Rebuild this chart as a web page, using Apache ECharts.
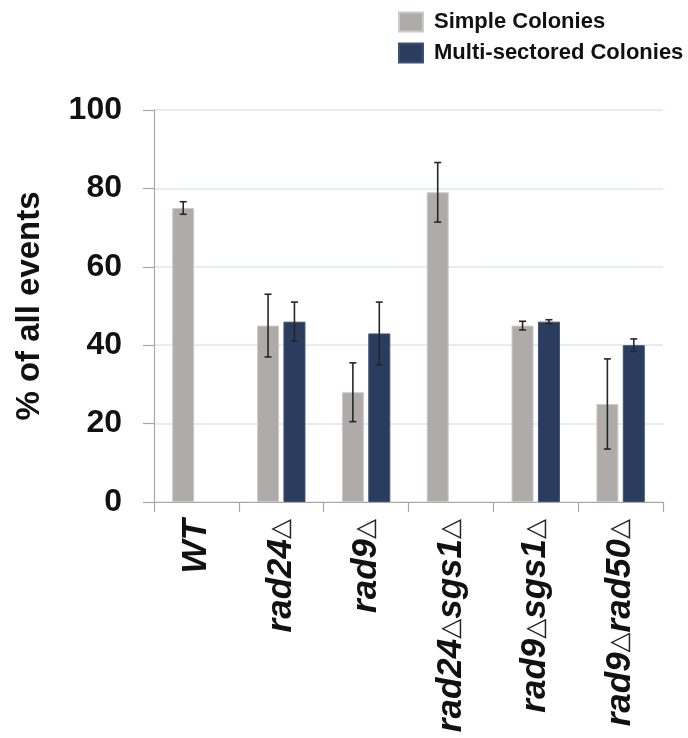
<!DOCTYPE html>
<html>
<head>
<meta charset="utf-8">
<title>% of all events by strain</title>
<script src="https://cdn.jsdelivr.net/npm/echarts@6/dist/echarts.min.js"></script>
<style>
  html, body { margin: 0; padding: 0; background: #ffffff; }
  #chart { width: 688px; height: 738px; }
</style>
</head>
<body>
<div id="chart"></div>
<script>
// Strains on the x axis ("△" marks a deletion)
const categories = ['WT', 'rad24△', 'rad9△', 'rad24△sgs1△', 'rad9△sgs1△', 'rad9△rad50△'];

// Mean % of all events
const simpleColonies = [75, 45, 28, 79, 45, 25];
const multiSectored = [null, 46, 43, null, 46, 40];

// Error bar half-lengths
const simpleErr = [1.6, 8, 7.5, 7.6, 1.1, 11.5];
const multiErr = [null, 5, 8, null, 0.5, 1.6];

// Y axis ticks
const yTicks = { min: 0, max: 100, step: 20 };

const seriesNames = ['Simple Colonies', 'Multi-sectored Colonies'];

const BAR_WIDTH = 22;
const BAR_GAP = 0.2;
const HALF_SHIFT = (BAR_WIDTH + BAR_WIDTH * BAR_GAP) / 2;

function errorData(values, errs) {
  const out = [];
  values.forEach(function (v, i) {
    if (v != null && errs[i] != null) out.push([i, v, errs[i]]);
  });
  return out;
}

function errorRenderer(shift) {
  return function (params, api) {
    const i = api.value(0), v = api.value(1), e = api.value(2);
    const hi = api.coord([i, v + e]);
    const lo = api.coord([i, v - e]);
    const x = hi[0] + shift;
    const cap = 3.5;
    const style = { stroke: '#262626', lineWidth: 1.6 };
    return {
      type: 'group',
      children: [
        { type: 'line', shape: { x1: x, y1: hi[1], x2: x, y2: lo[1] }, style: style },
        { type: 'line', shape: { x1: x - cap, y1: hi[1], x2: x + cap, y2: hi[1] }, style: style },
        { type: 'line', shape: { x1: x - cap, y1: lo[1], x2: x + cap, y2: lo[1] }, style: style }
      ]
    };
  };
}

const chart = echarts.init(document.getElementById('chart'), null, { renderer: 'canvas' });

const FONT = '"Liberation Sans", Arial, Helvetica, sans-serif';

chart.setOption({
  animation: false,
  backgroundColor: '#ffffff',
  textStyle: { fontFamily: FONT },
  legend: {
    data: seriesNames,
    orient: 'vertical',
    left: 398,
    top: 11,
    padding: 0,
    icon: 'rect',
    itemWidth: 24,
    itemHeight: 19,
    itemGap: 9,
    textStyle: {
      fontFamily: FONT,
      fontSize: 22,
      fontWeight: 'bold',
      color: '#111111',
      lineHeight: 19,
      padding: [0, 0, 0, 6]
    }
  },
  grid: { left: 154, right: 25, top: 110, bottom: 236, containLabel: false },
  xAxis: {
    type: 'category',
    data: categories,
    axisLine: { show: true, lineStyle: { color: '#a8a8a8', width: 1.2 } },
    axisTick: { show: true, length: 10, lineStyle: { color: '#a8a8a8', width: 1.2 } },
    axisLabel: {
      interval: 0,
      rotate: 90,
      margin: 17,
      formatter: function (value) {
        return value.split('△').map(function (part) {
          return part ? '{b|' + part + '}' : '';
        }).join('{d|△}');
      },
      rich: {
        b: { fontFamily: FONT, fontSize: 35, fontWeight: 'bold', fontStyle: 'italic', color: '#111111', lineHeight: 38 },
        d: { fontFamily: '"DejaVu Sans", sans-serif', fontSize: 26, fontWeight: 'normal', color: '#222222', lineHeight: 38 }
      }
    },
    splitLine: { show: false }
  },
  yAxis: {
    type: 'value',
    min: yTicks.min,
    max: yTicks.max,
    interval: yTicks.step,
    name: '% of all events',
    nameLocation: 'middle',
    nameGap: 108,
    nameTextStyle: { fontFamily: FONT, fontSize: 33, fontWeight: 'bold', color: '#111111' },
    axisLine: { show: true, lineStyle: { color: '#a8a8a8', width: 1.2 } },
    axisTick: { show: true, length: 11, lineStyle: { color: '#a8a8a8', width: 1.2 } },
    axisLabel: { fontFamily: FONT, fontSize: 32, fontWeight: 'bold', color: '#111111', margin: 32 },
    splitLine: { show: true, lineStyle: { color: '#dde6f3', width: 1.5 } }
  },
  series: [
    {
      name: seriesNames[0],
      type: 'bar',
      data: simpleColonies,
      barWidth: BAR_WIDTH,
      barGap: (BAR_GAP * 100) + '%',
      itemStyle: { color: '#afabaa', borderColor: '#cdcac9', borderWidth: 1 }
    },
    {
      name: seriesNames[1],
      type: 'bar',
      data: multiSectored,
      barWidth: BAR_WIDTH,
      barGap: (BAR_GAP * 100) + '%',
      itemStyle: { color: '#2a3d5f', borderColor: '#3f5073', borderWidth: 1 }
    },
    {
      type: 'custom',
      name: 'simpleErr',
      data: errorData(simpleColonies, simpleErr),
      encode: { x: 0, y: 1 },
      renderItem: errorRenderer(-HALF_SHIFT),
      z: 10,
      silent: true
    },
    {
      type: 'custom',
      name: 'multiErr',
      data: errorData(multiSectored, multiErr),
      encode: { x: 0, y: 1 },
      renderItem: errorRenderer(HALF_SHIFT),
      z: 10,
      silent: true
    }
  ]
});
</script>
</body>
</html>
